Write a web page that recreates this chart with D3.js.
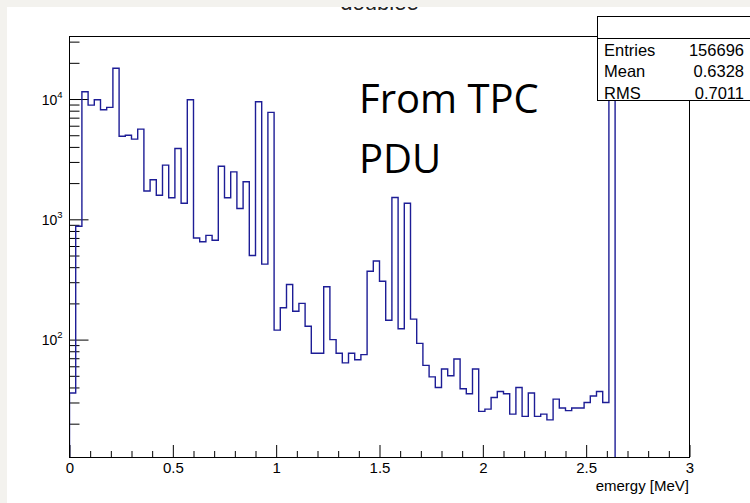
<!DOCTYPE html>
<html>
<head>
<meta charset="utf-8">
<script src="https://cdn.jsdelivr.net/npm/d3@7"></script>
<style>
  body { margin: 0; background: #fff; }
  svg { display: block; font-family: "Liberation Sans", Arial, sans-serif; }
</style>
</head>
<body>
<svg id="chart" width="750" height="503"></svg>
<script>
// histogram "doublee": 100 bins of 0.03 MeV from 0 to 3 MeV
const binWidth = 0.03;
const counts = [
  36, 875, 11500, 8900, 9870, 8150, 8530, 18000, 4900, 5000,
  4640, 5620, 1720, 2130, 1585, 2820, 1510, 3880, 1360, 9870,
  700, 650, 735, 670, 2760, 1510, 2480, 1230, 2050, 500,
  9500, 424, 7740, 120, 184, 287, 172, 200, 129, 77,
  77, 275, 100, 77, 64, 77, 68, 75, 370, 450,
  306, 145, 1520, 123, 1360, 148, 93, 61, 49, 40,
  57, 50, 69, 39, 35.5, 57, 25.3, 26.4, 33, 37,
  35.5, 24, 40, 23, 36, 23, 24, 21.5, 32, 27,
  25.7, 27, 27, 30, 34, 37, 30, 16000, 0, 0,
  0, 0, 0, 0, 0, 0, 0, 0, 0, 0
];
const xMajorTicks = [0, 0.5, 1, 1.5, 2, 2.5, 3];
const xMinorTicks = [0.1, 0.2, 0.3, 0.4, 0.6, 0.7, 0.8, 0.9, 1.1, 1.2, 1.3, 1.4,
  1.6, 1.7, 1.8, 1.9, 2.1, 2.2, 2.3, 2.4, 2.6, 2.7, 2.8, 2.9];
const yMajorTicks = [1e2, 1e3, 1e4];
const yMinorTicks = [20, 30, 40, 50, 60, 70, 80, 90, 200, 300, 400, 500, 600, 700, 800, 900,
  2000, 3000, 4000, 5000, 6000, 7000, 8000, 9000, 20000, 30000];
const statNames = ['Entries', 'Mean', 'RMS'];
const statValues = ['156696', '0.6328', '0.7011'];
const histTitle = 'doublee';
const xTitle = 'emergy [MeV]';
const noteLines = ['From TPC', 'PDU'];

const frame = { left: 69, right: 690, top: 36, bottom: 457 };

const svg = d3.select('#chart');

const x = d3.scaleLinear().domain([0, 3]).range([frame.left + 0.5, frame.right - 0.5]);
const y = d3.scaleLog().domain([Math.pow(10, 1.024), Math.pow(10, 4.524)])
  .range([frame.bottom, frame.top]);

// title (top is hidden under the slide strip)
svg.append('text')
  .attr('x', (frame.left + frame.right) / 2)
  .attr('y', 10)
  .attr('text-anchor', 'middle')
  .attr('font-size', 22)
  .attr('fill', '#222')
  .text(histTitle);

// axes
const xMajor = svg.append('g')
  .attr('transform', `translate(0,${frame.bottom})`)
  .call(d3.axisBottom(x).tickValues(xMajorTicks).tickSize(-12).tickPadding(5)
    .tickFormat(d3.format('')));
const xMinor = svg.append('g')
  .attr('transform', `translate(0,${frame.bottom})`)
  .call(d3.axisBottom(x).tickValues(xMinorTicks).tickSize(-6).tickFormat(''));

const yMajor = svg.append('g')
  .attr('transform', `translate(${frame.left + 0.5},0)`)
  .call(d3.axisLeft(y).tickValues(yMajorTicks).tickSize(-19).tickFormat(''));
const yMinor = svg.append('g')
  .attr('transform', `translate(${frame.left + 0.5},0)`)
  .call(d3.axisLeft(y).tickValues(yMinorTicks.filter(v => v > y.domain()[0])).tickSize(-10).tickFormat(''));

[xMajor, xMinor, yMajor, yMinor].forEach(g => {
  g.select('.domain').remove();
  g.selectAll('line').attr('stroke', '#000').attr('stroke-width', 1);
});
xMajor.selectAll('text')
  .attr('font-size', 15)
  .attr('font-family', '"Liberation Sans", Arial, sans-serif')
  .attr('fill', '#000');

// y labels as 10^n
yMajor.selectAll('.tick').each(function (d) {
  const t = d3.select(this).append('text')
    .attr('x', -7)
    .attr('y', 5)
    .attr('text-anchor', 'end')
    .attr('fill', '#000')
    .attr('font-family', '"Liberation Sans", Arial, sans-serif');
  t.append('tspan').attr('font-size', 14).text('10');
  t.append('tspan').attr('font-size', 9.5).attr('dy', -7).text(Math.round(Math.log10(d)));
});

// histogram outline
const clip = svg.append('clipPath').attr('id', 'plotclip');
clip.append('rect')
  .attr('x', frame.left).attr('y', frame.top)
  .attr('width', frame.right - frame.left).attr('height', frame.bottom - frame.top);

const yOf = c => (c > y.domain()[0] ? y(c) : frame.bottom);
let lastBin = counts.length - 1;
while (lastBin > 0 && counts[lastBin] <= 0) lastBin--;

const pts = [[x(0), frame.bottom]];
counts.slice(0, lastBin + 1).forEach((c, i) => {
  pts.push([x(i * binWidth), yOf(c)]);
  pts.push([x((i + 1) * binWidth), yOf(c)]);
});
pts.push([x((lastBin + 1) * binWidth), frame.bottom]);

svg.append('path')
  .attr('clip-path', 'url(#plotclip)')
  .attr('d', d3.line()(pts))
  .attr('fill', 'none')
  .attr('stroke', '#1d1d96')
  .attr('stroke-width', 1.4);

// frame
svg.append('rect')
  .attr('x', frame.left + 0.5).attr('y', frame.top + 0.5)
  .attr('width', frame.right - frame.left - 1).attr('height', frame.bottom - frame.top)
  .attr('fill', 'none')
  .attr('stroke', '#000');

// x axis title
svg.append('text')
  .attr('x', frame.right - 1)
  .attr('y', 491)
  .attr('text-anchor', 'end')
  .attr('font-size', 15)
  .text(xTitle);

// stats box
const box = svg.append('g');
box.append('rect')
  .attr('x', 597.5).attr('y', 16.5)
  .attr('width', 160).attr('height', 84)
  .attr('fill', '#fff').attr('stroke', '#000');
box.append('line')
  .attr('x1', 597.5).attr('x2', 750)
  .attr('y1', 38.5).attr('y2', 38.5)
  .attr('stroke', '#000');
statNames.forEach((name, i) => {
  box.append('text')
    .attr('x', 604).attr('y', 56 + i * 21.3)
    .attr('font-size', 16.5)
    .text(name);
  box.append('text')
    .attr('x', 744).attr('y', 56 + i * 21.3)
    .attr('font-size', 16.5)
    .attr('text-anchor', 'end')
    .text(statValues[i]);
});

// slide annotation
noteLines.forEach((line, i) => {
  svg.append('text')
    .attr('x', 359).attr('y', 113 + i * 60)
    .attr('font-family', '"Open Sans", sans-serif')
    .attr('font-size', 40)
    .attr('fill', '#000')
    .text(line);
});

// slide border strips
svg.append('rect').attr('x', 0).attr('y', 0).attr('width', 750).attr('height', 7).attr('fill', '#f3f2ee');
svg.append('rect').attr('x', 0).attr('y', 0).attr('width', 7).attr('height', 503).attr('fill', '#f3f2ee');
</script>
</body>
</html>
